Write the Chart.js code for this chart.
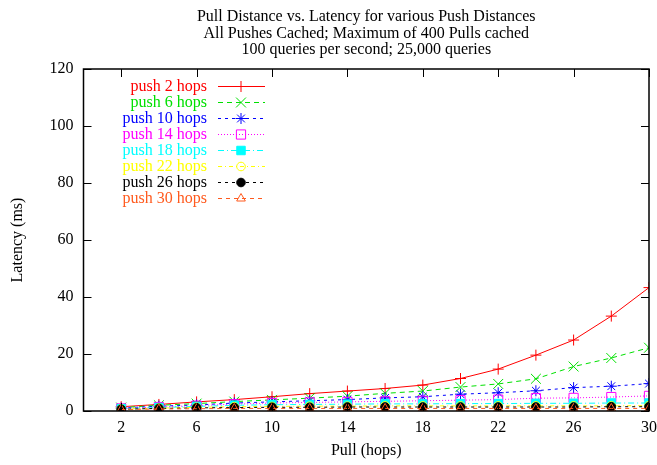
<!DOCTYPE html>
<html>
<head>
<meta charset="utf-8">
<title>Pull Distance vs. Latency</title>
<script src="https://cdn.jsdelivr.net/npm/chart.js@4.4.0/dist/chart.umd.min.js"></script>
<style>
  html, body { margin: 0; padding: 0; background: #fff; }
  #wrap { width: 657px; height: 465px; }
</style>
</head>
<body>
<div id="wrap"><canvas id="latency-chart" width="657" height="465"></canvas></div>
<script>
// pull distance (hops) on x, latency (ms) per push distance on y
const pullHops = [2, 4, 6, 8, 10, 12, 14, 16, 18, 20, 22, 24, 26, 28, 30];
const xTicks = [2, 6, 10, 14, 18, 22, 26, 30];
const yTicks = [0, 20, 40, 60, 80, 100, 120];

const titleLines = [
    'Pull Distance vs. Latency for various Push Distances',
    'All Pushes Cached; Maximum of 400 Pulls cached',
    '100 queries per second; 25,000 queries'
];
const pushLabels = ['push 2 hops', 'push 6 hops', 'push 10 hops', 'push 14 hops',
                    'push 18 hops', 'push 22 hops', 'push 26 hops', 'push 30 hops'];

const push2  = [1.5, 2.3, 3.2, 4.0, 5.0, 6.1, 7.0, 7.9, 9.1, 11.4, 14.7, 19.6, 24.9, 33.3, 43.3];
const push6  = [1.2, 2.0, 2.6, 3.3, 3.9, 4.5, 5.2, 6.2, 7.0, 8.4, 9.5, 11.3, 15.6, 18.6, 22.2];
const push10 = [1.0, 1.7, 2.1, 2.8, 3.2, 3.6, 4.0, 4.6, 5.0, 5.9, 6.4, 7.1, 8.2, 8.7, 9.6];
const push14 = [0.9, 1.4, 1.9, 2.4, 2.8, 3.0, 3.2, 3.4, 3.6, 3.8, 4.0, 4.5, 4.6, 4.9, 5.3];
const push18 = [0.8, 1.2, 1.6, 2.0, 2.2, 2.3, 2.4, 2.5, 2.5, 2.6, 2.6, 2.7, 2.7, 2.8, 2.8];
const push22 = [0.7, 1.0, 1.3, 1.5, 1.6, 1.7, 1.7, 1.8, 1.8, 1.8, 1.8, 1.8, 1.8, 1.8, 1.9];
const push26 = [0.6, 0.9, 1.1, 1.2, 1.3, 1.3, 1.4, 1.4, 1.4, 1.4, 1.4, 1.4, 1.4, 1.5, 1.5];
const push30 = [0.5, 0.7, 0.8, 0.9, 0.9, 0.9, 0.9, 0.9, 0.9, 0.9, 0.9, 0.9, 0.9, 0.9, 0.9];

const seriesValues = [push2, push6, push10, push14, push18, push22, push26, push30];

// gnuplot-like look for each line
const styles = [
    { color: '#ff0000', dash: [],           point: 'cross',    radius: 5.5, fill: false },
    { color: '#00e000', dash: [5, 4],       point: 'crossRot', radius: 7,   fill: false },
    { color: '#0000ff', dash: [3, 4],       point: 'star',     radius: 5.5, fill: false },
    { color: '#ff00ff', dash: [1, 2],       point: 'rect',     radius: 6.5, fill: false },
    { color: '#00ffff', dash: [6, 3, 1, 3], point: 'rect',     radius: 6,   fill: true },
    { color: '#ffff00', dash: [4, 3, 1, 3], point: 'circle',   radius: 4.3, fill: false },
    { color: '#000000', dash: [3, 4],       point: 'circle',   radius: 4.3, fill: true },
    { color: '#ff5a1e', dash: [4, 4],       point: 'triangle', radius: 5,   fill: false }
];

const FONT = 'Liberation Serif';
const FONT_SIZE = 16;

const datasets = seriesValues.map((vals, i) => {
    const s = styles[i];
    return {
        label: pushLabels[i],
        data: pullHops.map((x, j) => ({ x: x, y: vals[j] })),
        borderColor: s.color,
        borderWidth: 1,
        borderDash: s.dash,
        pointStyle: s.point,
        pointRadius: s.radius,
        pointBorderColor: s.color,
        pointBackgroundColor: s.fill ? s.color : 'rgba(0,0,0,0)',
        pointBorderWidth: 1,
        tension: 0,
        fill: false,
        order: seriesValues.length - i   // later series on top
    };
});

// frame, inward ticks, title and key
const gnuplotFrame = {
    id: 'gnuplotFrame',
    afterDraw(chart) {
        const ctx = chart.ctx;
        const area = chart.chartArea;
        const xs = chart.scales.x, ys = chart.scales.y;
        const tick = 8;
        ctx.save();
        ctx.strokeStyle = '#000';
        ctx.lineWidth = 1.5;
        ctx.setLineDash([]);
        ctx.strokeRect(area.left, area.top, area.right - area.left, area.bottom - area.top);
        ctx.lineWidth = 1;
        ctx.beginPath();
        xTicks.forEach(v => {
            const px = Math.round(xs.getPixelForValue(v)) + 0.5;
            ctx.moveTo(px, area.bottom); ctx.lineTo(px, area.bottom - tick);
            ctx.moveTo(px, area.top); ctx.lineTo(px, area.top + tick);
        });
        yTicks.forEach(v => {
            const py = Math.round(ys.getPixelForValue(v)) + 0.5;
            ctx.moveTo(area.left, py); ctx.lineTo(area.left + tick, py);
            ctx.moveTo(area.right, py); ctx.lineTo(area.right - tick, py);
        });
        ctx.stroke();

        // title, centred over the plot
        ctx.fillStyle = '#000';
        ctx.font = FONT_SIZE + 'px "' + FONT + '"';
        ctx.textAlign = 'center';
        ctx.textBaseline = 'middle';
        const cx = (area.left + area.right) / 2;
        titleLines.forEach((line, i) => ctx.fillText(line, cx, 17 + i * 16.5));

        // key: label on the left, line sample with its marker on the right
        ctx.textAlign = 'right';
        chart.data.datasets.forEach((ds, i) => {
            const y = 86 + i * 16;
            ctx.fillStyle = ds.borderColor;
            ctx.fillText(ds.label, 207, y + 1);
            ctx.strokeStyle = ds.borderColor;
            ctx.lineWidth = 1;
            ctx.setLineDash(ds.borderDash);
            ctx.beginPath();
            ctx.moveTo(218, y + 0.5); ctx.lineTo(265, y + 0.5);
            ctx.stroke();
            ctx.setLineDash([]);
            ctx.fillStyle = ds.pointBackgroundColor;
            Chart.helpers.drawPoint(ctx, {
                pointStyle: ds.pointStyle, radius: ds.pointRadius, rotation: 0, borderWidth: 1
            }, 241, y + 0.5);
        });
        ctx.restore();
    }
};

new Chart(document.getElementById('latency-chart'), {
    type: 'line',
    data: { datasets: datasets },
    plugins: [gnuplotFrame],
    options: {
        responsive: false,
        animation: false,
        layout: { padding: { top: 69, right: 8, left: 0, bottom: 0 } },
        plugins: { legend: { display: false }, tooltip: { enabled: false }, title: { display: false } },
        scales: {
            x: {
                type: 'linear', min: 0, max: 30,
                grid: { display: false, drawTicks: false },
                border: { display: false },
                afterBuildTicks: scale => { scale.ticks = xTicks.map(v => ({ value: v })); },
                afterFit: scale => { scale.height = 54; scale.paddingLeft = 0; scale.paddingRight = 0; },
                ticks: { color: '#000', font: { family: FONT, size: FONT_SIZE }, padding: 7, maxRotation: 0, autoSkip: false },
                title: { display: true, text: 'Pull (hops)', color: '#000',
                         font: { family: FONT, size: FONT_SIZE }, padding: { top: 0, bottom: 5 } }
            },
            y: {
                type: 'linear', min: 0, max: 120,
                grid: { display: false, drawTicks: false },
                border: { display: false },
                afterBuildTicks: scale => { scale.ticks = yTicks.map(v => ({ value: v })); },
                afterFit: scale => { scale.width = 83.5; scale.paddingTop = 0; scale.paddingBottom = 0; },
                ticks: { color: '#000', font: { family: FONT, size: FONT_SIZE }, padding: 10 },
                title: { display: true, text: 'Latency (ms)', color: '#000',
                         font: { family: FONT, size: FONT_SIZE }, padding: { top: 8, bottom: 0 } }
            }
        }
    }
});
</script>
</body>
</html>
